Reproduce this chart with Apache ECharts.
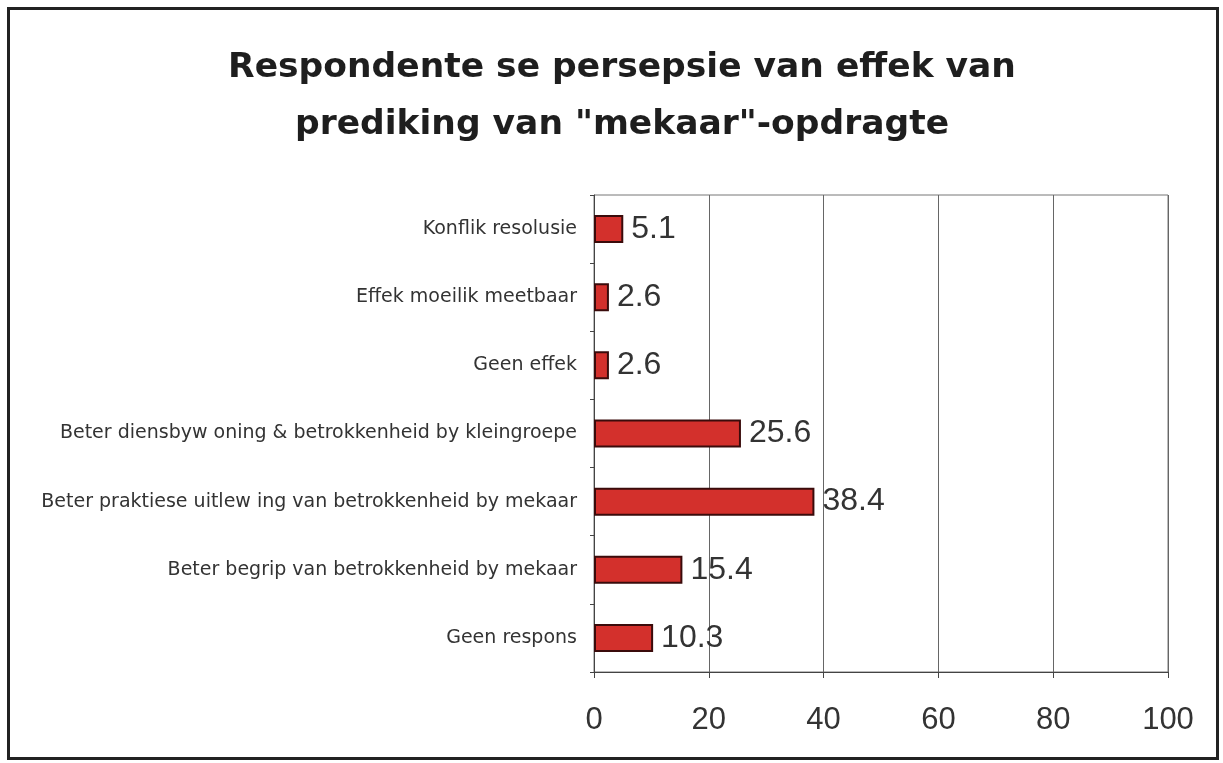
<!DOCTYPE html>
<html>
<head>
<meta charset="utf-8">
<script src="https://cdn.jsdelivr.net/npm/echarts@6/dist/echarts.min.js"></script>
<style>
html,body{margin:0;padding:0;background:#fff;}
#frame{position:absolute;left:7px;top:7px;width:1206px;height:747px;border:3px solid #222;}
#c{position:absolute;left:0;top:0;width:1223px;height:763px;}
</style>
</head>
<body>
<div id="frame"></div>
<div id="c"></div>
<script>
const titleText = 'Respondente se persepsie van effek van\nprediking van "mekaar"-opdragte';
const categories = [
  'Konflik resolusie',
  'Effek moeilik meetbaar',
  'Geen effek',
  'Beter diensbyw oning & betrokkenheid by kleingroepe',
  'Beter praktiese uitlew ing van betrokkenheid by mekaar',
  'Beter begrip van betrokkenheid by mekaar',
  'Geen respons'
];
const values = [5.1, 2.6, 2.6, 25.6, 38.4, 15.4, 10.3];
const xTicks = [0, 20, 40, 60, 80, 100];

const chart = echarts.init(document.getElementById('c'));
chart.setOption({
  animation: false,
  backgroundColor: 'transparent',
  title: {
    text: titleText,
    left: 617, textAlign: 'center', top: 35,
    textStyle: {fontFamily: 'DejaVu Sans', fontWeight: 'bold', fontSize: 34.5, lineHeight: 57, color: '#1e1e1e'}
  },
  grid: {left: 594, right: 55, top: 195, bottom: 91, show: true, borderColor: '#777', borderWidth: 1},
  xAxis: {
    type: 'value', min: xTicks[0], max: xTicks[xTicks.length - 1], interval: 20,
    axisLine: {show: true, lineStyle: {color: '#444'}},
    axisTick: {show: true, length: 6, lineStyle: {color: '#444'}},
    splitLine: {show: true, lineStyle: {color: '#666'}},
    axisLabel: {fontFamily: 'Liberation Sans', fontSize: 31, color: '#333', margin: 33}
  },
  yAxis: {
    type: 'category', data: categories, inverse: true,
    axisLine: {show: true, lineStyle: {color: '#444'}},
    axisTick: {show: true, length: 4, lineStyle: {color: '#444'}},
    axisLabel: {fontFamily: 'DejaVu Sans', fontSize: 19, color: '#333', margin: 17}
  },
  series: [{
    type: 'bar', data: values, barWidth: 28,
    itemStyle: {color: '#d3302c', borderColor: '#3a0b0b', borderWidth: 2},
    label: {show: true, position: 'right', distance: 8, fontFamily: 'Liberation Sans', fontSize: 32, color: '#333'}
  }]
});
</script>
</body>
</html>
